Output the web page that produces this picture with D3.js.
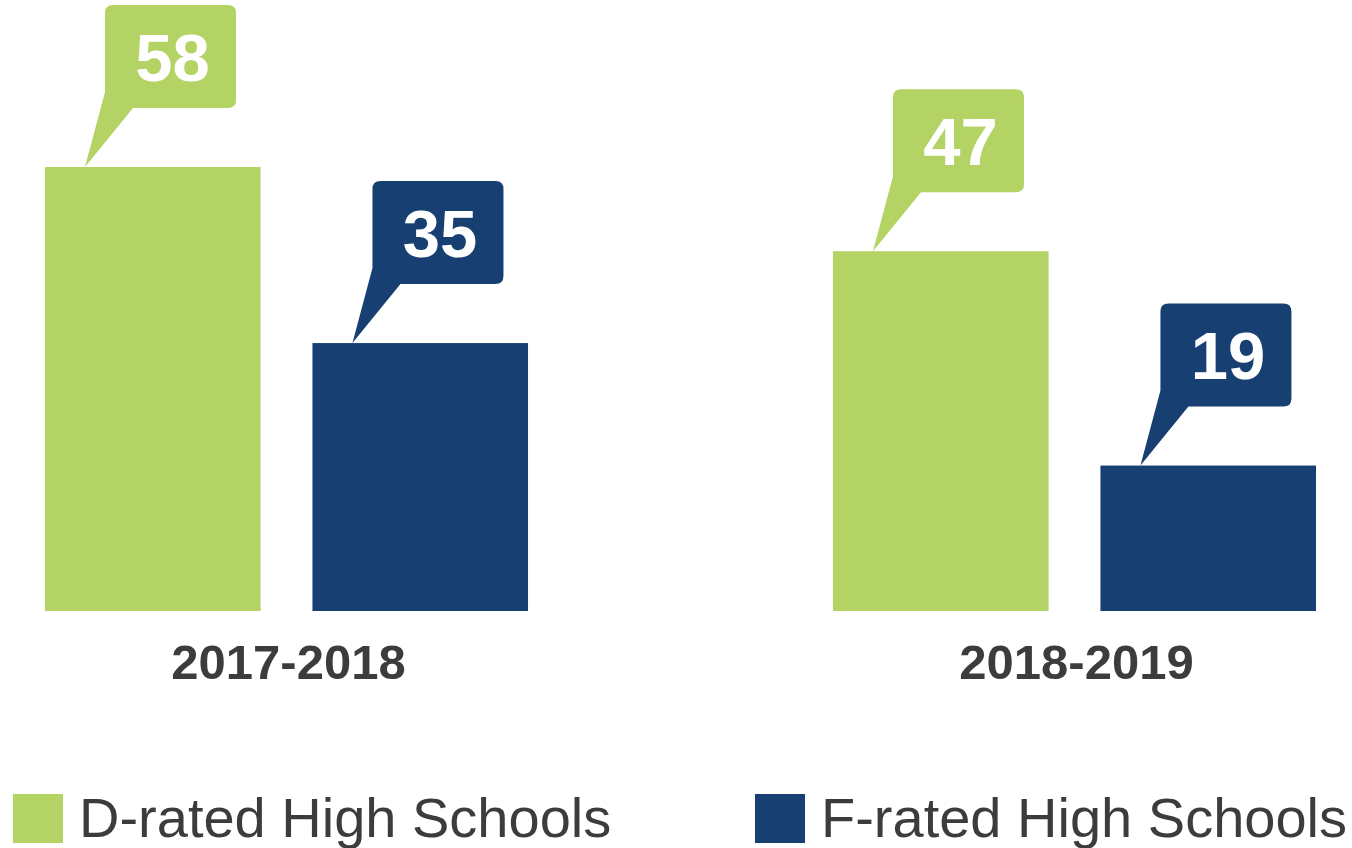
<!DOCTYPE html>
<html>
<head>
<meta charset="utf-8">
<script src="https://cdn.jsdelivr.net/npm/d3@7"></script>
<style>
  body { margin: 0; background: #fff; }
  svg { display: block; }
  text { font-family: "Liberation Sans", Arial, Helvetica, sans-serif; }
</style>
</head>
<body>
<svg id="chart" width="1352" height="848"></svg>
<script>
// data
var years = ["2017-2018", "2018-2019"];
var series = ["D-rated High Schools", "F-rated High Schools"];
var dRated = [58, 47];
var fRated = [35, 19];

var colors = ["#b3d364", "#173f72"];

var svg = d3.select("#chart");

var baseline = 611;

var x0 = d3.scaleBand().domain(years).range([45, 1316]).paddingInner(0.387).paddingOuter(0);
var x1 = d3.scaleBand().domain(series).range([0, x0.bandwidth()]).paddingInner(0.194).paddingOuter(0);
var y = d3.scaleLinear().domain([0, 58]).range([baseline, 167]);
var color = d3.scaleOrdinal().domain(series).range(colors);

var rows = [];
years.forEach(function(yr, i) {
  rows.push({ year: yr, s: series[0], v: dRated[i] });
  rows.push({ year: yr, s: series[1], v: fRated[i] });
});

// bars
svg.selectAll(".bar")
  .data(rows)
  .enter().append("rect")
    .attr("class", "bar")
    .attr("x", function(d) { return x0(d.year) + x1(d.s); })
    .attr("y", function(d) { return y(d.v); })
    .attr("width", x1.bandwidth())
    .attr("height", function(d) { return baseline - y(d.v); })
    .attr("fill", function(d) { return color(d.s); });

// speech-bubble labels
var boxW = 131, boxH = 103, r = 8;
function bubble(d) {
  var tx = x0(d.year) + x1(d.s) + 40, ty = y(d.v);
  var L = tx + 20, R = L + boxW, B = ty - 59, T = B - boxH;
  return "M" + L + "," + (T + r) +
    "Q" + L + "," + T + " " + (L + r) + "," + T +
    "L" + (R - r) + "," + T +
    "Q" + R + "," + T + " " + R + "," + (T + r) +
    "L" + R + "," + (B - r) +
    "Q" + R + "," + B + " " + (R - r) + "," + B +
    "L" + (L + 28) + "," + B +
    "L" + tx + "," + ty +
    "L" + L + "," + (B - 16) + "Z";
}

var callouts = svg.selectAll(".callout")
  .data(rows)
  .enter().append("g")
    .attr("class", "callout");

callouts.append("path")
  .attr("d", bubble)
  .attr("fill", function(d) { return color(d.s); });

callouts.append("text")
  .attr("x", function(d) { return x0(d.year) + x1(d.s) + 60 + boxW / 2 + 2; })
  .attr("y", function(d) { return y(d.v) - 59 - boxH / 2 + 24; })
  .attr("text-anchor", "middle")
  .attr("fill", "#fff")
  .style("font-size", "67px")
  .style("font-weight", "bold")
  .text(function(d) { return d.v; });

// year labels
svg.selectAll(".year")
  .data(years)
  .enter().append("text")
    .attr("class", "year")
    .attr("x", function(d) { return x0(d) + x0.bandwidth() / 2 + 2; })
    .attr("y", 679)
    .attr("text-anchor", "middle")
    .attr("fill", "#3c3c3c")
    .style("font-size", "49px")
    .style("font-weight", "bold")
    .text(function(d) { return d; });

// legend
var legendX = [13, 755];
var legend = svg.selectAll(".legend")
  .data(series)
  .enter().append("g")
    .attr("class", "legend")
    .attr("transform", function(d, i) { return "translate(" + legendX[i] + ",794)"; });

legend.append("rect")
  .attr("width", 50)
  .attr("height", 49)
  .attr("fill", function(d) { return color(d); });

legend.append("text")
  .attr("x", 66)
  .attr("y", 43)
  .attr("fill", "#3c3c3c")
  .style("font-size", "56px")
  .text(function(d) { return d; });
</script>
</body>
</html>
